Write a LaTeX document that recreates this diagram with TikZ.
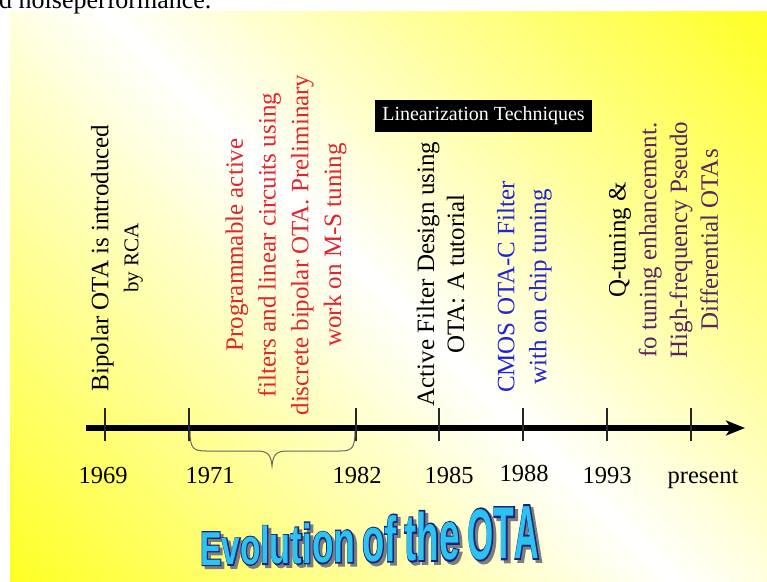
\documentclass[tikz,border=0pt]{standalone}
\usepackage{fontspec}
\usepackage{graphicx}
\setmainfont{Liberation Serif}
\newfontfamily\wafont{Liberation Sans}
\newfontfamily\waout{Liberation Sans}[UprightFeatures={FakeBold=5}, BoldFeatures={FakeBold=5}]
\usetikzlibrary{arrows.meta}
\definecolor{slideY}{RGB}{255,255,40}
\definecolor{redtxt}{RGB}{230,35,45}
\definecolor{bluetxt}{RGB}{35,35,215}
\definecolor{purptxt}{RGB}{90,35,100}
\definecolor{navyline}{RGB}{25,35,120}
\definecolor{cyanfill}{RGB}{45,195,240}
\definecolor{shadowgray}{RGB}{125,125,125}
\pgfdeclarehorizontalshading{slidebg}{100bp}{color(0bp)=(slideY); color(15bp)=(slideY); color(50bp)=(white); color(85bp)=(slideY); color(100bp)=(slideY)}
\newcommand\wl[4]{\raisebox{#3pt}{\scalebox{#2}[1]{\fontsize{#1}{#1}\selectfont #4}}}
\newcommand\titletext{%
\wl{47.5}{.68}{0}{E}\wl{49.3}{.669}{0.44}{v}\wl{50.8}{.658}{0.84}{o}\wl{52.1}{.65}{1.15}{l}\wl{53.3}{.643}{1.46}{u}\wl{54.5}{.635}{1.77}{t}\wl{55.4}{.629}{1.99}{i}\wl{56.7}{.62}{2.32}{o}\wl{58.8}{.607}{2.83}{n}%
\hspace{7pt}\wl{61.8}{.588}{3.58}{o}\wl{63.4}{.577}{4.0}{f}%
\hspace{8pt}\wl{65.2}{.56}{4.44}{t}\wl{66.9}{.55}{4.86}{h}\wl{68.9}{.535}{5.37}{e}%
\hspace{8pt}\wl{71.4}{.47}{5.98}{O}\wl{73.4}{.46}{6.49}{T}\wl{75.4}{.45}{7.0}{A}}
\begin{document}
\begin{tikzpicture}[x=1pt,y=-1pt,
  lbl/.style={rotate=90, align=center, inner sep=0pt, font=\fontsize{25}{31}\selectfont},
  yr/.style={anchor=base, inner sep=0pt, font=\fontsize{24.5}{29}\selectfont},
  tickln/.style={line width=1.2pt, black!85},
  wa/.style={anchor=base west, inner sep=0pt, font=\wafont\bfseries},
  waol/.style={anchor=base west, inner sep=0pt, font=\waout\bfseries},
  bracestyle/.style={line width=1pt, black!60}]
\useasboundingbox (0,0) rectangle (767,581);
% background
\shade[shading=slidebg, shading angle=45] (10,11) rectangle (767,581);
% cut-off line of text above the slide
\node[anchor=base west, inner sep=0pt, font=\fontsize{26}{30}\selectfont] (toptxt) at (-1,8) {d noiseperformance.};
% axis
\coordinate (a0) at (86,428);
\coordinate (a1) at (745,428);
\draw[line width=5.5pt, -{Stealth[length=19pt,width=15pt,inset=5pt]}] (a0) -- (a1);
% ticks
\foreach \n/\tx in {t69/105, t71/189, t82/356, t85/439, t88/523, t93/607, tpr/691} {
  \coordinate (\n) at (\tx,428);
  \draw[tickln] (\n) ++(0,-20) -- ++(0,33);
}
% brace
\coordinate (b1) at (190,431);
\coordinate (b2) at (355,431);
\coordinate (btip) at (272,466);
\draw[bracestyle] (b1) .. controls (190,448) and (193,451) .. (206,451) -- (257,451)
  .. controls (268,451) and (271,455) .. (btip)
  .. controls (273,455) and (276,451) .. (287,451) -- (340,451)
  .. controls (352,451) and (355,448) .. (b2);
% years
\node[yr] (y69) at (103,483) {1969};
\node[yr] (y71) at (210,483) {1971};
\node[yr] (y82) at (357,483) {1982};
\node[yr] (y85) at (449,483) {1985};
\node[yr] (y88) at (524,481) {1988};
\node[yr] (y93) at (607,483) {1993};
\node[yr] (ypr) at (703,483) {present};
% event texts
\node[lbl] (ev1) at (117,258) {Bipolar OTA is introduced\\[-1pt]{\fontsize{21}{26}\selectfont by RCA}};
\node[lbl, text=redtxt, font=\fontsize{25}{32.7}\selectfont] (ev2) at (286,245) {Programmable active\\filters and linear circuits using\\discrete bipolar OTA. Preliminary\\work on M-S tuning};
\node[lbl, font=\fontsize{25}{30}\selectfont] (ev3) at (440.5,274) {Active Filter Design using\\OTA: A tutorial};
\node[lbl, text=bluetxt, font=\fontsize{25}{32}\selectfont] (ev4) at (524.5,287) {CMOS OTA-C Filter\\with on chip tuning};
\node[lbl, text=purptxt, font=\fontsize{25}{30.7}\selectfont] (ev5) at (663.5,240) {\textcolor{black}{Q-tuning \&}\\fo tuning enhancement.\\High-frequency Pseudo\\Differential OTAs};
% black label
\node[fill=black, text=white, inner sep=0pt, minimum width=217, minimum height=32, font=\fontsize{20}{24}\selectfont] (lin) at (483.5,116) {Linearization Techniques};
% title word-art: shadow, outline, fill
\node[waol, text=shadowgray] (titleshadow) at (203,568) {\titletext};
\node[waol, text=navyline] (titleline) at (200,565) {\titletext};
\node[wa, text=cyanfill] (title) at (200,565) {\titletext};
\end{tikzpicture}
\end{document}
